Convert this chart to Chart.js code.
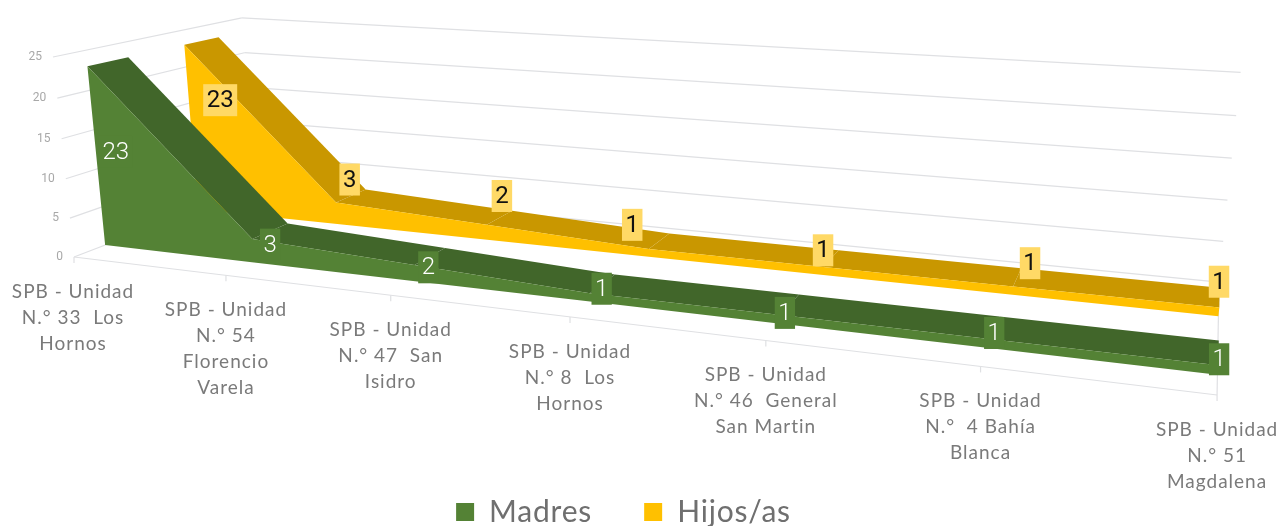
<!DOCTYPE html>
<html>
<head>
<meta charset="utf-8">
<style>
html,body{margin:0;padding:0;background:#fff;}
#wrap{position:relative;width:1280px;height:526px;}
</style>
<script src="https://cdn.jsdelivr.net/npm/chart.js@4"></script>
</head>
<body>
<div id="wrap"><canvas id="areaChart"></canvas></div>
<script>
const categories = [
    ['SPB - Unidad','N.° 33  Los','Hornos'],
    ['SPB - Unidad','N.° 54','Florencio','Varela'],
    ['SPB - Unidad','N.° 47  San','Isidro'],
    ['SPB - Unidad','N.° 8  Los','Hornos'],
    ['SPB - Unidad','N.° 46  General','San Martin'],
    ['SPB - Unidad','N.°  4 Bahía','Blanca'],
    ['SPB - Unidad','N.° 51','Magdalena']
];
const madres = [23,3,2,1,1,1,1];
const hijos = [23,3,2,1,1,1,1];
const yTicks = [0,5,10,15,20,25];

//camera of the fake 3d box, s along categories, t up the values, d into the depth
function project(chart,px,py,d){
    const a = chart.chartArea;
    const s = (px-a.left)/(a.right-a.left), t = (a.bottom-py)/(a.bottom-a.top);
    const w = 1-0.2334*s-0.035*t+0.185*d;
    return {
        x:(74+859*s-22.85*t+227*d)/w,
        y:(257+45.8*s-202*t-34.4*d)/w
    };
}

function fillPoly(ctx,pts,color){
    ctx.beginPath();
    pts.forEach((p,i)=> i ? ctx.lineTo(p.x,p.y) : ctx.moveTo(p.x,p.y));
    ctx.closePath();
    ctx.fillStyle = color;
    ctx.fill();
}

const box3d = {
    id:'box3d',
    beforeLayout(chart){
        chart.ctx.letterSpacing = '0.8px';
    },
    //legend is not centred on the canvas in the original
    afterLayout(chart){
        chart.legend.left -= 22;
        chart.legend.right -= 22;
    },
    //walls and floor
    beforeDatasetsDraw(chart){
        const ctx = chart.ctx, x = chart.scales.x, y = chart.scales.y, a = chart.chartArea;
        ctx.save();
        ctx.letterSpacing = '0px';
        ctx.strokeStyle = '#dfe0e3';
        ctx.lineWidth = 1.2;
        const seg = (p,q)=>{
            ctx.beginPath();
            ctx.moveTo(p.x,p.y);
            ctx.lineTo(q.x,q.y);
            ctx.stroke();
        };
        ctx.font = '12px Roboto';
        ctx.textAlign = 'right';
        ctx.textBaseline = 'middle';
        ctx.fillStyle = '#a8a8a8';
        yTicks.forEach(v=>{
            const py = y.getPixelForValue(v);
            const front = project(chart,a.left,py,0), corner = project(chart,a.left,py,1), end = project(chart,a.right,py,1);
            seg(front,corner);
            seg(corner,end);
            ctx.fillText(String(v),front.x-11,front.y);
        });
        const base = y.getPixelForValue(0);
        seg(project(chart,a.left,base,0),project(chart,a.right,base,0));
        seg(project(chart,a.right,base,0),project(chart,a.right,base,1));
        //category ticks and labels
        ctx.font = '19px Lato';
        ctx.letterSpacing = '1px';
        ctx.textAlign = 'center';
        ctx.fillStyle = '#7a7a7a';
        categories.forEach((lines,i)=>{
            const p = project(chart,x.getPixelForValue(i),base,0);
            seg(p,{x:p.x,y:p.y+6});
            lines.forEach((line,j)=> ctx.fillText(line,p.x+(i===0?-1:0),p.y+34.5+j*26));
        });
        ctx.restore();
    },
    //each series is a ribbon, top face behind and front face over it
    beforeDatasetDraw(chart,args){
        const ctx = chart.ctx, ds = chart.data.datasets[args.index];
        const pts = args.meta.data, base = chart.scales.y.getPixelForValue(0);
        for(let i = 0;i<pts.length-1;i++){
            fillPoly(ctx,[
                project(chart,pts[i].x,pts[i].y,ds.depth[0]),
                project(chart,pts[i+1].x,pts[i+1].y,ds.depth[0]),
                project(chart,pts[i+1].x,pts[i+1].y,ds.depth[1]),
                project(chart,pts[i].x,pts[i].y,ds.depth[1])
            ],ds.topColor);
        }
        const front = pts.map(p=>project(chart,p.x,p.y,ds.depth[0]));
        const bottom = pts.map(p=>project(chart,p.x,base,ds.depth[0])).reverse();
        fillPoly(ctx,front.concat(bottom),ds.backgroundColor);
        return false;
    },
    //value labels sit on the middle of the ribbon, halfway up the value
    afterDatasetsDraw(chart){
        const ctx = chart.ctx, x = chart.scales.x, y = chart.scales.y;
        ctx.save();
        ctx.letterSpacing = '0px';
        ctx.textAlign = 'center';
        ctx.textBaseline = 'middle';
        [1,0].forEach(k=>{
            const ds = chart.data.datasets[k];
            ctx.font = ds.labelFont;
            ds.data.forEach((v,i)=>{
                const p = project(chart,x.getPixelForValue(i),y.getPixelForValue(v/2),(ds.depth[0]+ds.depth[1])/2);
                const cx = p.x+ds.labelShift[i][0], cy = p.y+ds.labelShift[i][1];
                const w = ctx.measureText(String(v)).width+7;
                ctx.fillStyle = ds.labelBox;
                ctx.fillRect(cx-w/2,cy-16,w,32);
                ctx.fillStyle = ds.labelColor;
                ctx.fillText(String(v),cx,cy+1);
            });
        });
        ctx.restore();
    }
};

Chart.defaults.font.family = 'Lato';
var ctx = document.getElementById('areaChart').getContext('2d');
var chart = new Chart(ctx,{
    type:'line',
    data:{
        labels:categories,
        datasets:[{
            label:'Madres',
            data:madres,
            backgroundColor:'#548235',
            borderColor:'#548235',
            borderWidth:0,
            topColor:'#41662a',
            labelBox:'#548235',
            labelColor:'#ffffff',
            labelFont:'300 24px Roboto',
            labelShift:[[-1,1],[-1,2],[-2,3],[-1,1],[-5,4],[0,1],[1,2]],
            depth:[0.15,0.35]
        },{
            label:'Hijos/as',
            data:hijos,
            backgroundColor:'#ffc000',
            borderColor:'#ffc000',
            borderWidth:0,
            topColor:'#c99700',
            labelBox:'#ffd966',
            labelColor:'#111111',
            labelFont:'24px Roboto',
            labelShift:[[12,-23],[-2,-27],[2,-29],[-27,-20],[-8,-12],[13,-18],[0,-20]],
            depth:[0.65,0.85]
        }]
    },
    plugins:[box3d],
    options:{
        responsive:true,
        maintainAspectRatio:false,
        animation:false,
        layout:{padding:{left:74,right:63,top:57,bottom:-11}},
        scales:{
            x:{
                grid:{display:false},
                border:{display:false},
                ticks:{display:false},
                afterFit(scale){ scale.height = 146; }
            },
            y:{display:false,min:0,max:25,ticks:{stepSize:5}}
        },
        plugins:{
            tooltip:{enabled:false},
            legend:{
                position:'bottom',
                labels:{
                    boxWidth:18,
                    boxHeight:18,
                    padding:52,
                    color:'#6f6f6f',
                    font:{family:'Lato',size:30}
                }
            }
        }
    }
});
</script>
</body>
</html>
